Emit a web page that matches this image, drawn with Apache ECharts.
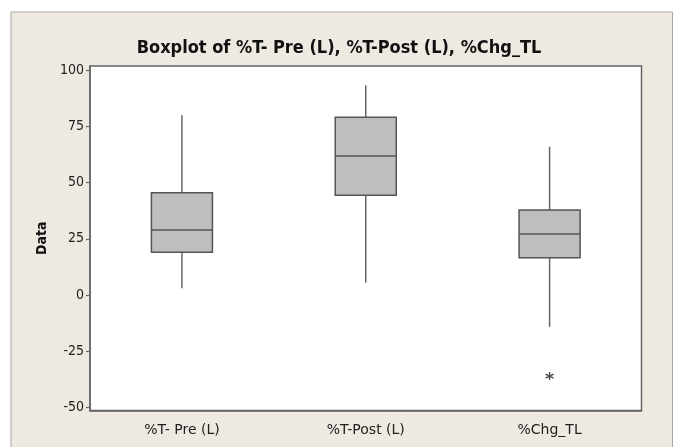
<!DOCTYPE html>
<html>
<head>
<meta charset="utf-8">
<script src="https://cdn.jsdelivr.net/npm/echarts@6/dist/echarts.min.js"></script>
<style>html,body{margin:0;padding:0;background:#fff;}#c{width:678px;height:447px;}</style>
</head>
<body>
<div id="c"></div>
<script>
var categories = ['%T- Pre (L)', '%T-Post (L)', '%Chg_TL'];
// [whisker low, Q1, median, Q3, whisker high]
var lowWhisker = [3.0, 5.6, -14.1];
var q1 = [19.0, 44.4, 16.6];
var median = [28.9, 61.8, 27.1];
var q3 = [45.5, 79.0, 37.8];
var highWhisker = [80.0, 93.3, 65.9];
var outliers = [[2, -36.0]];
var yTicks = [-50, -25, 0, 25, 50, 75, 100];

var boxData = categories.map(function (c, i) {
  return [i, lowWhisker[i], q1[i], median[i], q3[i], highWhisker[i]];
});

var chart = echarts.init(document.getElementById('c'));
var font = 'DejaVu Sans Condensed, DejaVu Sans';
chart.setOption({
  backgroundColor: '#ffffff',
  animation: false,
  graphic: [{
    type: 'rect', z: -10, silent: true,
    shape: { x: 11, y: 12, width: 661.5, height: 450 },
    style: { fill: '#EEEAE2', stroke: '#A8A69F', lineWidth: 1 }
  }],
  title: {
    text: 'Boxplot of %T- Pre (L), %T-Post (L), %Chg_TL',
    left: 'center', top: 34,
    textStyle: { fontFamily: font, fontWeight: 'bold', fontSize: 18, color: '#111' }
  },
  grid: {
    left: 90, top: 66, right: 36.5, bottom: 36.5,
    show: true, backgroundColor: '#ffffff', borderColor: '#666', borderWidth: 1.5
  },
  xAxis: {
    type: 'category', data: categories, boundaryGap: true,
    axisLine: { onZero: false, lineStyle: { color: '#666', width: 1.5 } },
    axisTick: { alignWithLabel: true, length: 4, lineStyle: { color: '#666' } },
    axisLabel: { fontFamily: 'DejaVu Sans', fontSize: 14, color: '#222', margin: 13 },
    splitLine: { show: false }
  },
  yAxis: {
    type: 'value', min: -51.3, max: 101.8,
    name: 'Data', nameLocation: 'middle', nameGap: 40, nameRotate: 90,
    nameTextStyle: { fontFamily: font, fontWeight: 'bold', fontSize: 14, color: '#111' },
    axisLine: { show: true, lineStyle: { color: '#666', width: 1.5 } },
    axisTick: { show: true, length: 4, customValues: yTicks, lineStyle: { color: '#666', width: 1.2 } },
    axisLabel: { fontFamily: font, fontSize: 14, color: '#222', margin: 6, customValues: yTicks },
    splitLine: { show: false }
  },
  series: [{
    type: 'custom',
    data: boxData,
    encode: { x: 0, y: [1, 2, 3, 4, 5] },
    renderItem: function (params, api) {
      var x = api.value(0);
      var pLow = api.coord([x, api.value(1)]);
      var pQ1 = api.coord([x, api.value(2)]);
      var pMed = api.coord([x, api.value(3)]);
      var pQ3 = api.coord([x, api.value(4)]);
      var pHigh = api.coord([x, api.value(5)]);
      var w = api.size([1, 0])[0] * 0.332;
      var cx = pMed[0];
      var stroke = { stroke: '#555', lineWidth: 1.5 };
      return {
        type: 'group',
        children: [
          { type: 'line', shape: { x1: cx, y1: pHigh[1], x2: cx, y2: pQ3[1] }, style: { stroke: '#666', lineWidth: 1.5 } },
          { type: 'line', shape: { x1: cx, y1: pQ1[1], x2: cx, y2: pLow[1] }, style: { stroke: '#666', lineWidth: 1.5 } },
          { type: 'rect', shape: { x: cx - w / 2, y: pQ3[1], width: w, height: pQ1[1] - pQ3[1] }, style: { fill: '#BEBEBE', stroke: '#555', lineWidth: 1.5 } },
          { type: 'line', shape: { x1: cx - w / 2, y1: pMed[1], x2: cx + w / 2, y2: pMed[1] }, style: stroke }
        ]
      };
    }
  }, {
    type: 'scatter',
    data: outliers,
    symbol: 'path://M5,0L5,10M0.67,2.5L9.33,7.5M0.67,7.5L9.33,2.5',
    symbolSize: 8,
    itemStyle: { color: 'none', borderColor: '#222', borderWidth: 1.4 }
  }]
});
</script>
</body>
</html>
